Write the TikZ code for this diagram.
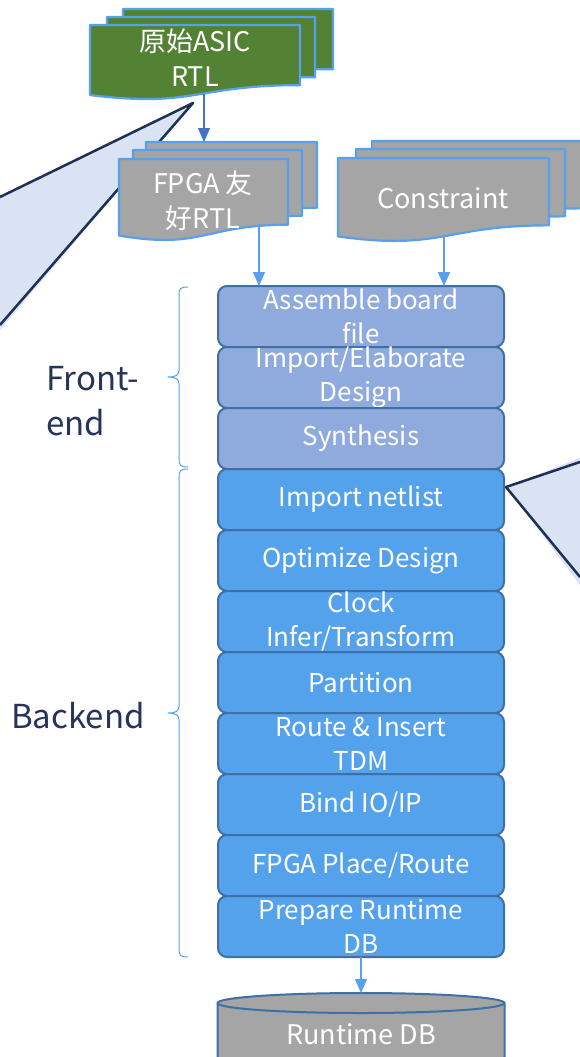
\documentclass[tikz,border=0pt]{standalone}
\usepackage{fontspec}
\setmainfont{Noto Sans CJK SC}
\usepackage{tikz}
\usetikzlibrary{arrows.meta,positioning}

\definecolor{asicgreen}{RGB}{84,130,53}
\definecolor{docgray}{RGB}{165,165,165}
\definecolor{docline}{RGB}{88,160,236}
\definecolor{frontblue}{RGB}{143,170,220}
\definecolor{backblue}{RGB}{84,161,236}
\definecolor{boxline}{RGB}{62,112,165}
\definecolor{calloutfill}{RGB}{218,227,243}
\definecolor{calloutline}{RGB}{30,48,84}
\definecolor{stagetext}{RGB}{38,52,90}
\definecolor{asicarrow}{RGB}{68,114,196}

% one page of a stacked document symbol: x, y, width, height, fill
\newcommand{\docpage}[5]{%
  \filldraw[draw=docline, line width=2.2pt, fill=#5] (#1,#2) -- (#1+#3,#2) -- (#1+#3,#2+0.802*#4)
    .. controls (#1+0.5*#3,#2+0.802*#4) and (#1+0.5*#3,#2+1.107*#4) .. (#1,#2+0.934*#4) -- cycle;}

% left curly brace: x of the ends, top y, bottom y
\newcommand{\stagebrace}[3]{%
  \draw[stagebrace] (#1,#2) .. controls (#1-8,#2) and (#1-9,#2+2) .. (#1-9,#2+8)
    -- (#1-9,{(#2+#3)/2-7}) .. controls (#1-9,{(#2+#3)/2-2}) and (#1-12,{(#2+#3)/2}) .. (#1-20,{(#2+#3)/2})
    .. controls (#1-12,{(#2+#3)/2}) and (#1-9,{(#2+#3)/2+2}) .. (#1-9,{(#2+#3)/2+7})
    -- (#1-9,#3-8) .. controls (#1-9,#3-2) and (#1-8,#3) .. (#1,#3);}

\begin{document}
\begin{tikzpicture}
[x=1pt, y=-1pt, line join=round]
\tikzset{
	frontbox/.style = {draw=boxline, fill=frontblue, line width=2pt, rounded corners=9pt,
		minimum width=286pt, minimum height=61pt, inner sep=0pt, outer sep=0pt},
	backbox/.style = {frontbox, fill=backblue},
	boxtext/.style = {text=white, align=center, inner sep=0pt, font=\fontsize{26}{34}\selectfont},
	doctext/.style = {text=white, align=center, inner sep=0pt, font=\fontsize{27}{35}\selectfont},
	stagelabel/.style = {text=stagetext, align=left, anchor=west, inner sep=0pt, font=\fontsize{33}{45}\selectfont},
	callout/.style = {fill=calloutfill},
	calloutedge/.style = {draw=calloutline, line width=2.5pt},
	stagebrace/.style = {draw=docline, line width=1pt},
	flow/.style = {draw=docline, line width=1.3pt, -{Triangle[width=12pt,length=14pt]}},
	asicflow/.style = {flow, draw=asicarrow, fill=asicarrow}
}

\useasboundingbox (0,0) rectangle (580,1057);
\clip (0,0) rectangle (580,1057);

% callouts
\fill[callout] (193,103) -- (-40,216) -- (-40,377) -- cycle;
\draw[calloutedge] (0,197) -- (193,103) -- (0,325);
\fill[callout] (506,487) -- (620,442) -- (620,638) -- cycle;
\draw[calloutedge] (580,462) -- (506,487) -- (580,577);

% input documents
\docpage{123}{9}{210}{75}{asicgreen}
\docpage{107}{17}{208}{75}{asicgreen}
\docpage{90}{25}{210}{75}{asicgreen}
\node[doctext] (asic) at (195,58) {原始ASIC\\RTL};

\docpage{146}{142}{171}{82}{docgray}
\docpage{133}{150}{169}{82}{docgray}
\docpage{119}{159}{169}{82}{docgray}
\node[doctext] (fpga) at (203,201) {FPGA 友\\好RTL};

\docpage{372}{141}{211}{84}{docgray}
\docpage{356}{149}{209}{84}{docgray}
\docpage{338}{158}{211}{84}{docgray}
\node[doctext] (cons) at (443,198) {Constraint};

% flow steps
\node[frontbox, label={[boxtext]center:{Assemble board\\file}}] (asm) at (361,316.5) {};
\node[frontbox, below=0pt of asm, label={[boxtext]center:{Import/Elaborate\\Design}}] (elab) {};
\node[frontbox, below=0pt of elab, label={[boxtext]center:Synthesis}] (syn) {};
\node[backbox, below=0pt of syn, label={[boxtext]center:Import netlist}] (imp) {};
\node[backbox, below=0pt of imp, label={[boxtext]center:Optimize Design}] (opt) {};
\node[backbox, below=0pt of opt, label={[boxtext]center:{Clock\\Infer/Transform}}] (clk) {};
\node[backbox, below=0pt of clk, label={[boxtext]center:Partition}] (part) {};
\node[backbox, below=0pt of part, label={[boxtext]center:{Route \& Insert\\TDM}}] (tdm) {};
\node[backbox, below=0pt of tdm, label={[boxtext]center:Bind IO/IP}] (bind) {};
\node[backbox, below=0pt of bind, label={[boxtext]center:FPGA Place/Route}] (pr) {};
\node[backbox, below=0pt of pr, label={[boxtext]center:{Prepare Runtime\\DB}}] (prep) {};

% runtime database
\filldraw[draw=boxline, fill=docgray, line width=2pt] (217.5,1003) -- (217.5,1057)
	arc[start angle=180, end angle=0, x radius=143.5, y radius=10] -- (504.5,1003);
\filldraw[draw=boxline, fill=docgray, line width=2pt] (361,1003) ellipse [x radius=143.5, y radius=10];
\node[doctext] (db) at (361,1034) {Runtime DB};
\coordinate (dbtop) at (361,993);

% connectors
\coordinate (asicout) at (204,94);
\coordinate (fpgain) at (204,142);
\coordinate (fpgaout) at (259,224);
\coordinate (consout) at (444,236);
\draw[asicflow] (asicout) -- (fpgain);
\draw[flow] (fpgaout) -- (fpgaout |- asm.north);
\draw[flow] (consout) -- (consout |- asm.north);
\draw[flow] (prep.south) -- (dbtop);

% stages
\stagebrace{188}{287}{467}
\stagebrace{188}{469}{957}
\node[stagelabel] (fe) at (46,401) {Front-\\end};
\node[stagelabel] (be) at (11,716) {Backend};
\end{tikzpicture}
\end{document}
